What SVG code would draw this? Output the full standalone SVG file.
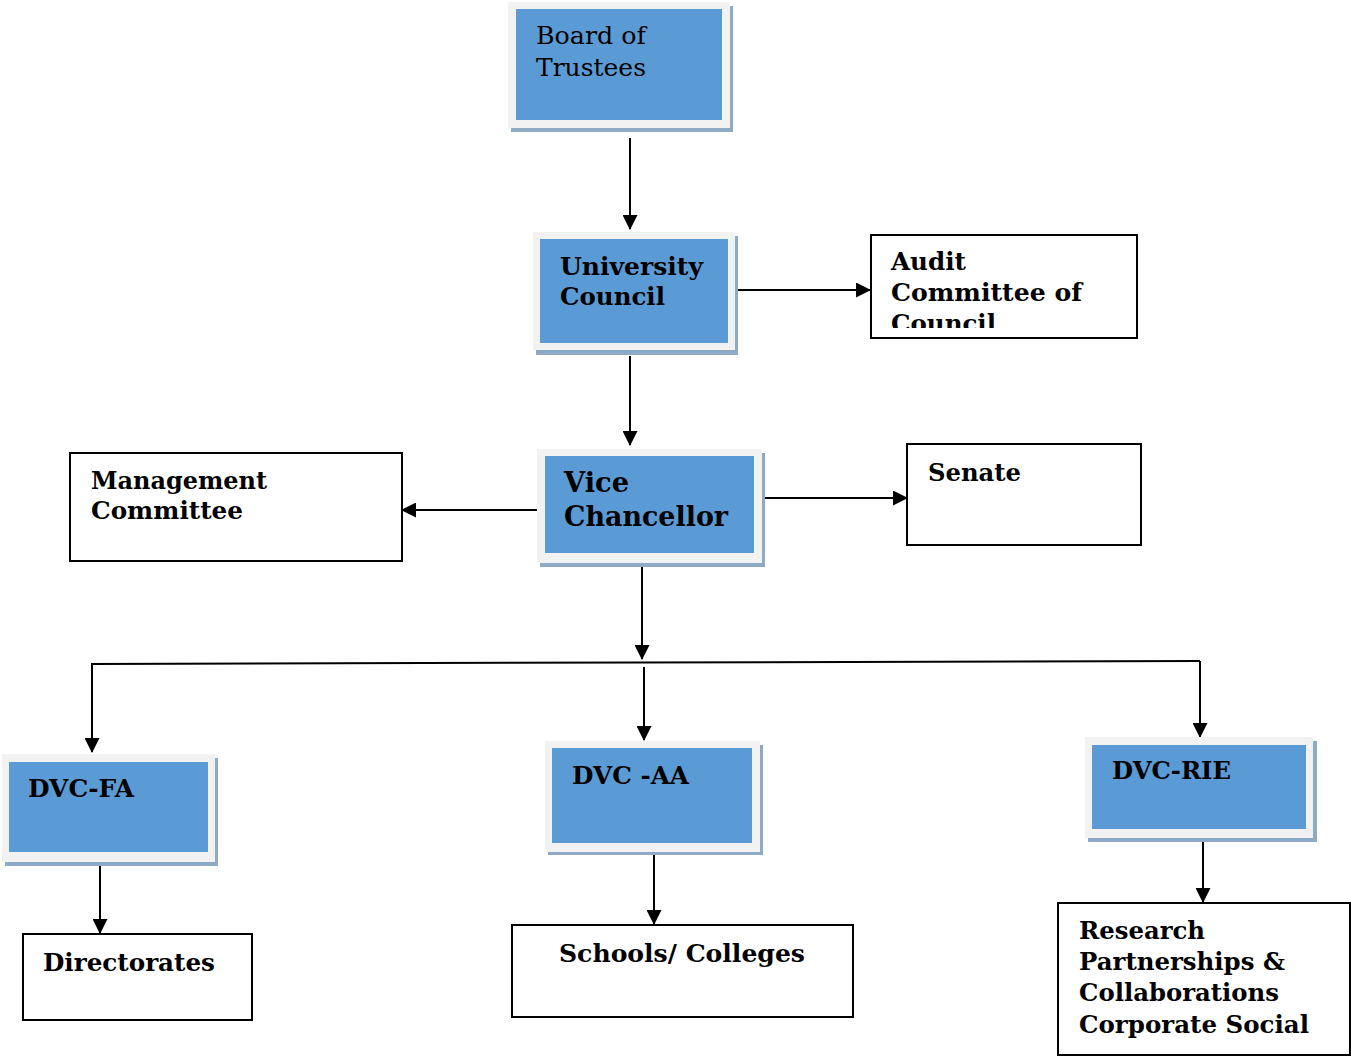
<svg xmlns="http://www.w3.org/2000/svg" width="1351" height="1057" viewBox="0 0 1351 1057">
<style>
.shadow{fill:#8faac4}
.frame{fill:#f2f2f2}
.blue{fill:#5b9bd5}
.box{fill:#ffffff;stroke:#000;stroke-width:2}
.t{font-family:"DejaVu Serif","Liberation Serif",serif;font-weight:bold;font-size:25px;fill:#000}
.r{font-family:"DejaVu Serif","Liberation Serif",serif;font-weight:normal;font-size:25px;fill:#000}
.big{font-size:28px}
.c{stroke:#000;stroke-width:2;fill:none}
</style>
<defs>
<marker id="ah" markerWidth="15" markerHeight="15" refX="14" refY="7.5" orient="auto" markerUnits="userSpaceOnUse">
<path d="M0,0 L15,7.5 L0,15 Z" fill="#000"/>
</marker>
<clipPath id="clipAudit"><rect x="871" y="235" width="266" height="93"/></clipPath>
<clipPath id="clipRes"><rect x="1058" y="903" width="292" height="140"/></clipPath>
</defs>
<rect width="1351" height="1057" fill="#fff"/>

<g id="connectors">
<line class="c" x1="630" y1="138" x2="630" y2="229" marker-end="url(#ah)"/>
<line class="c" x1="738" y1="290" x2="870" y2="290" marker-end="url(#ah)"/>
<line class="c" x1="630" y1="356" x2="630" y2="445" marker-end="url(#ah)"/>
<line class="c" x1="545" y1="510" x2="402" y2="510" marker-end="url(#ah)"/>
<line class="c" x1="765" y1="498" x2="907" y2="498" marker-end="url(#ah)"/>
<line class="c" x1="642" y1="565" x2="642" y2="659" marker-end="url(#ah)"/>
<polyline class="c" points="91,664 1200,661"/>
<line class="c" x1="92" y1="664" x2="92" y2="752" marker-end="url(#ah)"/>
<line class="c" x1="644" y1="667" x2="644" y2="740" marker-end="url(#ah)"/>
<line class="c" x1="1200" y1="661" x2="1200" y2="737" marker-end="url(#ah)"/>
<line class="c" x1="100" y1="866" x2="100" y2="933" marker-end="url(#ah)"/>
<line class="c" x1="654" y1="855" x2="654" y2="924" marker-end="url(#ah)"/>
<line class="c" x1="1203" y1="842" x2="1203" y2="902" marker-end="url(#ah)"/>
</g>

<g id="board">
<rect class="shadow" x="511" y="6" width="222" height="126"/>
<rect class="frame" x="508" y="2" width="222" height="126"/>
<rect class="blue" x="516" y="9" width="206" height="111"/>
<text class="r" x="536" y="44" textLength="110" lengthAdjust="spacingAndGlyphs">Board of</text>
<text class="r" x="536" y="76" textLength="110" lengthAdjust="spacingAndGlyphs">Trustees</text>
</g>

<g id="council">
<rect class="shadow" x="536" y="236" width="202" height="119"/>
<rect class="frame" x="533" y="232" width="202" height="118"/>
<rect class="blue" x="540" y="239" width="188" height="104"/>
<text class="t" x="560" y="275" textLength="143" lengthAdjust="spacingAndGlyphs">University</text>
<text class="t" x="560" y="305" textLength="105" lengthAdjust="spacingAndGlyphs">Council</text>
</g>

<g id="audit">
<rect class="box" x="871" y="235" width="266" height="103"/>
<g clip-path="url(#clipAudit)">
<text class="t" x="891" y="270" textLength="75" lengthAdjust="spacingAndGlyphs">Audit</text>
<text class="t" x="891" y="301" textLength="191" lengthAdjust="spacingAndGlyphs">Committee of</text>
<text class="t" x="891" y="332" textLength="105" lengthAdjust="spacingAndGlyphs">Council</text>
</g>
</g>

<g id="vc">
<rect class="shadow" x="540" y="453" width="225" height="114"/>
<rect class="frame" x="537" y="449" width="225" height="114"/>
<rect class="blue" x="545" y="456" width="209" height="97"/>
<text class="t big" x="564" y="492" textLength="65" lengthAdjust="spacingAndGlyphs">Vice</text>
<text class="t big" x="564" y="526" textLength="164" lengthAdjust="spacingAndGlyphs">Chancellor</text>
</g>

<g id="management">
<rect class="box" x="70" y="453" width="332" height="108"/>
<text class="t" x="91" y="489" textLength="176" lengthAdjust="spacingAndGlyphs">Management</text>
<text class="t" x="91" y="519" textLength="152" lengthAdjust="spacingAndGlyphs">Committee</text>
</g>

<g id="senate">
<rect class="box" x="907" y="444" width="234" height="101"/>
<text class="t" x="928" y="481" textLength="93" lengthAdjust="spacingAndGlyphs">Senate</text>
</g>

<g id="dvcfa">
<rect class="shadow" x="5" y="758" width="213" height="108"/>
<rect class="frame" x="2" y="754" width="213" height="108"/>
<rect class="blue" x="9" y="762" width="199" height="90"/>
<text class="t" x="28" y="797" textLength="106" lengthAdjust="spacingAndGlyphs">DVC-FA</text>
</g>

<g id="dvcaa">
<rect class="shadow" x="548" y="745" width="215" height="110"/>
<rect class="frame" x="545" y="741" width="215" height="111"/>
<rect class="blue" x="552" y="748" width="200" height="95"/>
<text class="t" x="572" y="784" textLength="117" lengthAdjust="spacingAndGlyphs">DVC -AA</text>
</g>

<g id="dvcrie">
<rect class="shadow" x="1088" y="741" width="229" height="101"/>
<rect class="frame" x="1085" y="737" width="228" height="101"/>
<rect class="blue" x="1092" y="745" width="214" height="84"/>
<text class="t" x="1112" y="779" textLength="119" lengthAdjust="spacingAndGlyphs">DVC-RIE</text>
</g>

<g id="directorates">
<rect class="box" x="23" y="934" width="229" height="86"/>
<text class="t" x="43" y="971" textLength="172" lengthAdjust="spacingAndGlyphs">Directorates</text>
</g>

<g id="schools">
<rect class="box" x="512" y="925" width="341" height="92"/>
<text class="t" x="559" y="962" textLength="246" lengthAdjust="spacingAndGlyphs">Schools/ Colleges</text>
</g>

<g id="research">
<rect class="box" x="1058" y="903" width="292" height="152"/>
<g clip-path="url(#clipRes)">
<text class="t" x="1079" y="939" textLength="126" lengthAdjust="spacingAndGlyphs">Research</text>
<text class="t" x="1079" y="970" textLength="206" lengthAdjust="spacingAndGlyphs">Partnerships &amp;</text>
<text class="t" x="1079" y="1001" textLength="200" lengthAdjust="spacingAndGlyphs">Collaborations</text>
<text class="t" x="1079" y="1033" textLength="230" lengthAdjust="spacingAndGlyphs">Corporate Social</text>
</g>
</g>
</svg>
